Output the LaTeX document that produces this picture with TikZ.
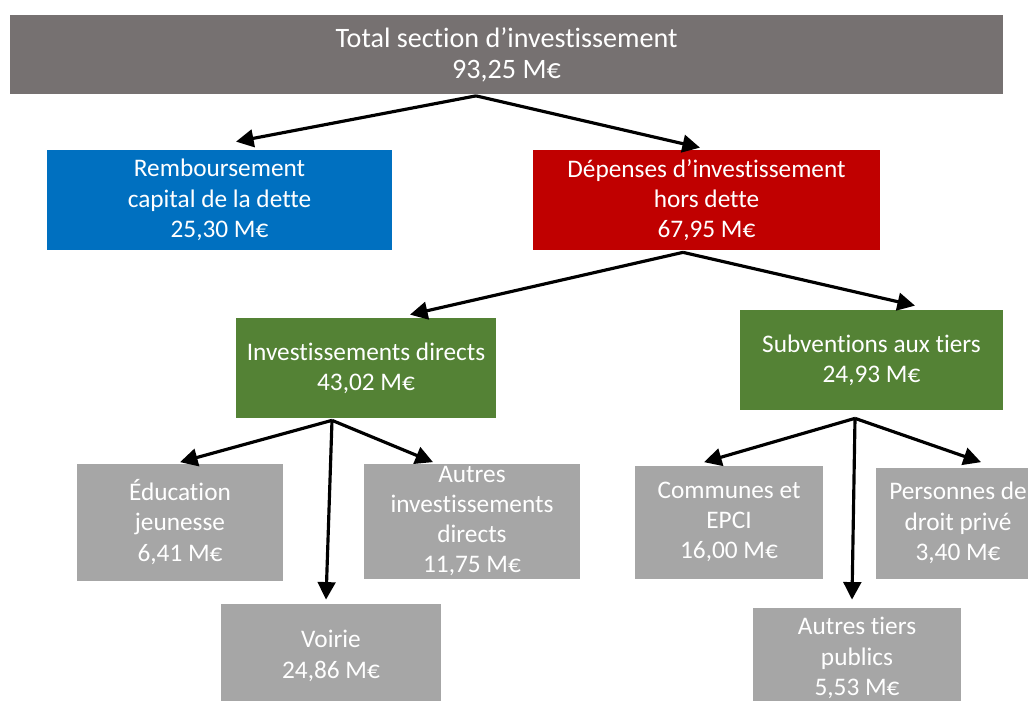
\documentclass[tikz,border=0pt]{standalone}
\usepackage{fontspec}
\setmainfont{Carlito}[Ligatures=NoCommon]
\usetikzlibrary{arrows.meta}
\definecolor{grisfonce}{HTML}{767171}
\definecolor{grisclair}{HTML}{A6A6A6}
\definecolor{bleudette}{HTML}{0070C0}
\definecolor{rougedep}{HTML}{C00000}
\definecolor{vertinv}{HTML}{548235}
\newcommand\pxu{0.02cm}

\begin{document}
\begin{tikzpicture}[x=0.02cm, y=-0.02cm,
    every node/.style = {shape=rectangle, align=center, text=white, inner sep=0pt,
        font=\fontsize{14.4}{17.2}\selectfont},
    fleche/.style = {-{Triangle[length=10pt,width=10pt]}, line width=1.8pt}]
  \useasboundingbox (0,0) rectangle (1028,700);
  % niveau 0
  \node[fill=grisfonce, minimum width=993*\pxu, minimum height=79*\pxu,
    font=\fontsize{16}{17.6}\selectfont] (total) at (506.5,54.5)
    {Total section d’investissement \\ 93,25 M€};
  % niveau 1
  \node[fill=bleudette, minimum width=345*\pxu, minimum height=100*\pxu] (dette) at (219.5,200)
    {Remboursement \\ capital de la dette \\ 25,30 M€};
  \node[fill=rougedep, minimum width=347*\pxu, minimum height=100*\pxu] (depenses) at (706.5,200)
    {Dépenses d’investissement \\ hors dette \\ 67,95 M€};
  % niveau 2
  \node[fill=vertinv, minimum width=260*\pxu, minimum height=100*\pxu] (directs) at (366,368)
    {Investissements directs \\ 43,02 M€};
  \node[fill=vertinv, minimum width=263*\pxu, minimum height=100*\pxu] (subventions) at (871.5,360)
    {Subventions aux tiers \\ 24,93 M€};
  % niveau 3
  \node[fill=grisclair, minimum width=206*\pxu, minimum height=117*\pxu] (education) at (180,522)
    {Éducation \\ jeunesse \\ 6,41 M€};
  \node[fill=grisclair, minimum width=216*\pxu, minimum height=115*\pxu] (autresinv) at (472,521)
    {Autres \\ investissements \\ directs \\ 11,75 M€};
  \node[fill=grisclair, minimum width=220*\pxu, minimum height=104*\pxu] (voirie) at (331,656)
    {Voirie \\ 24,86 M€};
  \node[fill=grisclair, minimum width=188*\pxu, minimum height=113*\pxu] (communes) at (729,522)
    {Communes et \\ EPCI \\ 16,00 M€};
  \node[fill=grisclair, minimum width=164*\pxu, minimum height=111*\pxu] (prive) at (958,523)
    {Personnes de \\ droit privé \\ 3,40 M€};
  \node[fill=grisclair, minimum width=208*\pxu, minimum height=100*\pxu] (tiers) at (857,658)
    {Autres tiers \\ publics \\ 5,53 M€};
  % fleches
  \draw[fleche] ([shift={(-30.5,1.5)}]total.south) -- ([shift={(16.5,-8)}]dette.north);
  \draw[fleche] ([shift={(-30.5,1.5)}]total.south) -- ([shift={(-6.5,-2)}]depenses.north);
  \draw[fleche] ([shift={(-23.5,2)}]depenses.south) -- ([shift={(44,-3)}]directs.north);
  \draw[fleche] ([shift={(-23.5,2)}]depenses.south) -- ([shift={(43.5,-4)}]subventions.north);
  \draw[fleche] ([shift={(-34,2)}]directs.south) -- ([shift={(0,-1)}]education.north);
  \draw[fleche] ([shift={(-34,2)}]directs.south) -- ([shift={(-5,-4)}]voirie.north);
  \draw[fleche] ([shift={(-34,2)}]directs.south) -- ([shift={(-39,-1)}]autresinv.north);
  \draw[fleche] ([shift={(-16.5,8)}]subventions.south) -- ([shift={(-25,-3)}]communes.north);
  \draw[fleche] ([shift={(-16.5,8)}]subventions.south) -- ([shift={(-5,-8)}]tiers.north);
  \draw[fleche] ([shift={(-16.5,8)}]subventions.south) -- ([shift={(23,-5)}]prive.north);
\end{tikzpicture}
\end{document}
